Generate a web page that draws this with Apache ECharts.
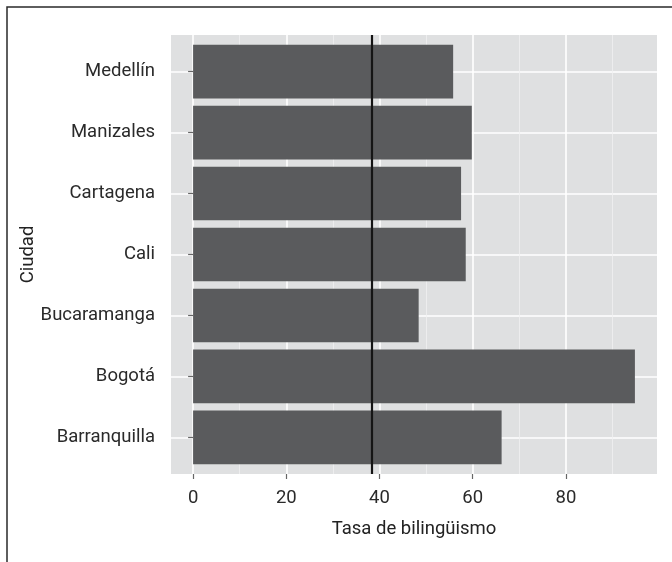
<!DOCTYPE html>
<html>
<head>
<meta charset="utf-8">
<script src="https://cdn.jsdelivr.net/npm/echarts@6/dist/echarts.min.js"></script>
<style>
  html, body { margin: 0; padding: 0; background: #ffffff; }
  #chart { width: 672px; height: 562px; }
</style>
</head>
<body>
<div id="chart"></div>
<script>
// Data (bottom to top, as in the reference)
const cities = ['Barranquilla', 'Bogotá', 'Bucaramanga', 'Cali', 'Cartagena', 'Manizales', 'Medellín'];
const rates = [66.2, 94.8, 48.4, 58.5, 57.5, 59.8, 55.8];
const referenceRate = 38.4;
const xTicks = [0, 20, 40, 60, 80];
const xMinorTicks = [10, 30, 50, 70, 90];
const xTitle = 'Tasa de bilingüismo';
const yTitle = 'Ciudad';

const FONT = '"Roboto", "Liberation Sans", sans-serif';
const FS = 18.5;
const maxRate = Math.max(...rates);
const xMin = -0.05 * maxRate;
const xMax = maxRate * 1.05;
const yPositions = cities.map((c, i) => i + 1);

const chart = echarts.init(document.getElementById('chart'), null, { renderer: 'canvas' });

const option = {
  backgroundColor: '#ffffff',
  animation: false,
  graphic: [
    {
      type: 'polyline',
      shape: { points: [[7, 562], [7, 7], [672, 7]] },
      style: { stroke: '#2a2a2a', lineWidth: 1.5, fill: null },
      silent: true
    }
  ],
  grid: {
    left: 171, right: 15, top: 35, bottom: 88,
    containLabel: false, outerBoundsMode: 'none',
    show: true, backgroundColor: '#dfe0e1', borderWidth: 0
  },
  xAxis: [
    {
      type: 'value', min: xMin, max: xMax,
      name: xTitle, nameLocation: 'middle', nameGap: 46,
      nameTextStyle: { fontFamily: FONT, fontSize: FS, color: '#222' },
      axisLine: { show: false },
      axisTick: { show: true, customValues: xTicks, length: 5, lineStyle: { color: '#666', width: 1.2 } },
      axisLabel: { customValues: xTicks, margin: 15, fontFamily: FONT, fontSize: FS, color: '#2a2a2a' },
      splitLine: { show: true, lineStyle: { color: '#ffffff', width: 1.6 } }
    },
    {
      type: 'value', min: xMin, max: xMax, position: 'bottom',
      axisLine: { show: false },
      axisTick: { show: false, customValues: xMinorTicks },
      axisLabel: { show: false, customValues: xMinorTicks },
      splitLine: { show: true, lineStyle: { color: '#f0f0f1', width: 0.8 } }
    }
  ],
  yAxis: {
    type: 'value', min: 0.4, max: cities.length + 0.6,
    name: yTitle, nameLocation: 'middle', nameGap: 133, nameRotate: 90,
    nameMoveOverlap: false,
    nameTextStyle: { fontFamily: FONT, fontSize: FS, color: '#222' },
    axisLine: { show: false },
    axisTick: { show: true, customValues: yPositions, length: 5, lineStyle: { color: '#666', width: 1.2 } },
    axisLabel: {
      customValues: yPositions, margin: 16, fontFamily: FONT, fontSize: FS, color: '#2a2a2a',
      formatter: v => cities[Math.round(v) - 1] || ''
    },
    splitLine: { show: true, lineStyle: { color: '#ffffff', width: 1.6 } }
  },
  series: [
    {
      type: 'custom',
      xAxisIndex: 0,
      data: cities.map((c, i) => [yPositions[i], rates[i]]),
      encode: { x: 1, y: 0 },
      renderItem: function (params, api) {
        const pos = api.value(0);
        const val = api.value(1);
        const start = api.coord([0, pos]);
        const end = api.coord([val, pos]);
        const h = api.size([0, 0.88])[1];
        return {
          type: 'rect',
          shape: { x: start[0], y: start[1] - h / 2, width: end[0] - start[0], height: h },
          style: { fill: '#5a5b5d' }
        };
      },
      markLine: {
        silent: true, symbol: 'none',
        label: { show: false },
        lineStyle: { color: '#151515', width: 2.2, type: 'solid' },
        data: [{ xAxis: referenceRate }]
      },
      z: 3
    }
  ]
};

chart.setOption(option);
</script>
</body>
</html>
